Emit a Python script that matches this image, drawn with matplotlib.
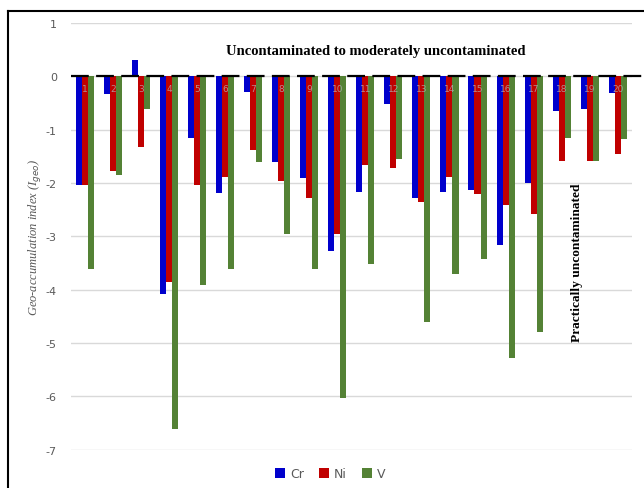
import numpy as np
import matplotlib
matplotlib.use("Agg")
import matplotlib.pyplot as plt
from matplotlib.lines import Line2D

plt.rcParams["axes.unicode_minus"] = False

# Igeo values per sample
samples = [str(i) for i in range(1, 21)]
cr = [-2.03, -0.34, 0.31, -4.08, -1.16, -2.18, -0.29, -1.61, -1.91, -3.27,
      -2.17, -0.52, -2.28, -2.17, -2.13, -3.17, -1.99, -0.65, -0.61, -0.31]
ni = [-2.03, -1.77, -1.32, -3.86, -2.03, -1.88, -1.39, -1.97, -2.28, -2.96,
      -1.66, -1.72, -2.35, -1.88, -2.21, -2.42, -2.58, -1.59, -1.59, -1.46]
v = [-3.61, -1.85, -0.61, -6.61, -3.91, -3.61, -1.61, -2.95, -3.61, -6.02,
     -3.51, -1.54, -4.60, -3.70, -3.43, -5.28, -4.80, -1.16, -1.59, -1.17]

fig = plt.figure(figsize=(6.44, 4.89), dpi=100)
ax = fig.add_axes([0.110, 0.078, 0.871, 0.873])

x = np.arange(len(samples))
w = 0.215
ax.bar(x - w, cr, w, color="#0000CC", label="Cr", zorder=2)
ax.bar(x, ni, w, color="#C00000", label="Ni", zorder=2)
ax.bar(x + w, v, w, color="#548235", label="V", zorder=2)

for xi, s in zip(x, samples):
    ax.text(xi, -0.22, s, ha="center", va="center", fontsize=6.5, color="#b0b0b0",
            alpha=0.8, zorder=3)

ax.plot([-0.5, 20.3], [0, 0], color="black", lw=1.6, ls=(0, (8, 3.3)), clip_on=False, zorder=4)

ax.set_xlim(-0.5, 19.5)
ax.set_ylim(-7, 1)
ax.set_yticks(range(-7, 2))
ax.set_xticks([])
ax.grid(axis="y", color="#d9d9d9", lw=1, zorder=0)
for sp in ax.spines.values():
    sp.set_visible(False)
ax.tick_params(axis="y", length=0, labelsize=8, labelcolor="#595959", pad=10)

ax.set_ylabel("Geo-accumulation index (I$_{geo}$)", fontsize=9, color="#595959",
              family="Liberation Serif", style="italic", labelpad=2)

ax.text(10.37, 0.48, "Uncontaminated to moderately uncontaminated", ha="center", va="center",
        fontsize=10.5, fontweight="bold", family="Liberation Serif")
ax.text(17.54, -3.48, "Practically uncontaminated", ha="center", va="center", rotation=90,
        fontsize=9.6, fontweight="bold", family="Liberation Serif")

fig.legend(loc="center", bbox_to_anchor=(330 / 644, 1 - 475 / 489), ncol=3, frameon=False,
           fontsize=9, labelcolor="#595959", handlelength=0.8, handleheight=0.8,
           handletextpad=0.4, columnspacing=1.2)

# outer frame (left and top edges visible)
fig.add_artist(Line2D([8 / 644, 8 / 644], [0, 1 - 12 / 489], color="black", lw=1.5))
fig.add_artist(Line2D([8 / 644, 1], [1 - 12 / 489, 1 - 12 / 489], color="black", lw=1.5))

fig.savefig("out.png", dpi=100)
